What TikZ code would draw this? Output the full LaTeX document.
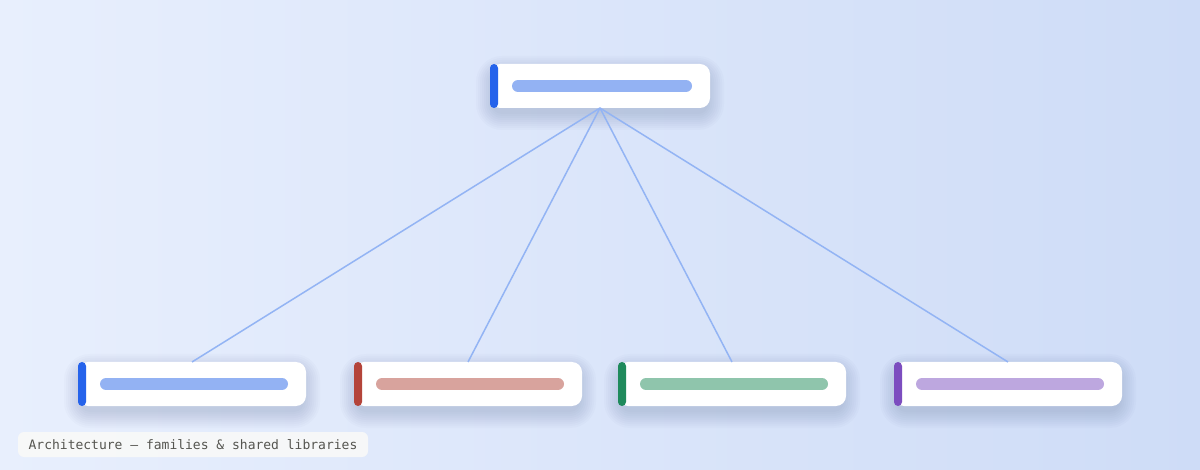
\documentclass[tikz,border=0pt]{standalone}
\usepackage{fontspec}
\setmonofont{DejaVu Sans Mono}

\begin{document}
\begin{tikzpicture}[x=0.5pt,y=0.5pt,yscale=-1,xscale=1,
  card/.style={fill=white,rounded corners=5pt,minimum height=22pt,inner sep=0pt,outer sep=0pt},
  softshade/.style={fill={rgb, 255:red, 40; green, 60; blue, 120},fill opacity=0.018},
  link/.style={draw={rgb, 255:red, 147; green, 180; blue, 244},line width=0.75pt},
  accent/.style={rounded corners=2pt},
  fillbar/.style={line width=6pt,line cap=round},
]
\useasboundingbox (0,0) rectangle (1200,470);

%Background
\shade [left color={rgb, 255:red, 232; green, 239; blue, 253}, right color={rgb, 255:red, 206; green, 220; blue, 247}] (0,0) rectangle (1200,470);

%Shadows under the cards
\foreach \cx/\cy/\w in {600/86/220, 192/384/228, 468/384/228, 732/384/228, 1008/384/228}{
  \foreach \k in {1,...,9}{
    \pgfmathsetmacro{\rad}{4+\k}
    \fill [softshade, rounded corners=\rad pt] ({\cx-\w/2-2*\k+4},{\cy-22-2*\k+10}) rectangle ({\cx+\w/2+2*\k-4},{\cy+22+2*\k+4});
  }
}

%Cards
\node [card, minimum width=110pt] (root) at (600,86) {};
\node [card, minimum width=114pt] (famA) at (192,384) {};
\node [card, minimum width=114pt] (famB) at (468,384) {};
\node [card, minimum width=114pt] (famC) at (732,384) {};
\node [card, minimum width=114pt] (famD) at (1008,384) {};

%Links
\draw [link] (root.south) -- (famA.north);
\draw [link] (root.south) -- (famB.north);
\draw [link] (root.south) -- (famC.north);
\draw [link] (root.south) -- (famD.north);

%Accent strips
\fill [accent, fill={rgb, 255:red, 37; green, 99; blue, 235}] (root.north west) rectangle ([xshift=4pt]root.south west);
\fill [accent, fill={rgb, 255:red, 37; green, 99; blue, 235}] (famA.north west) rectangle ([xshift=4pt]famA.south west);
\fill [accent, fill={rgb, 255:red, 180; green, 68; blue, 58}] (famB.north west) rectangle ([xshift=4pt]famB.south west);
\fill [accent, fill={rgb, 255:red, 31; green, 138; blue, 92}] (famC.north west) rectangle ([xshift=4pt]famC.south west);
\fill [accent, fill={rgb, 255:red, 124; green, 77; blue, 191}] (famD.north west) rectangle ([xshift=4pt]famD.south west);

%Placeholder bars
\draw [fillbar, draw={rgb, 255:red, 147; green, 178; blue, 243}] ([xshift=14pt]root.west) -- ([xshift=-12pt]root.east);
\draw [fillbar, draw={rgb, 255:red, 147; green, 178; blue, 243}] ([xshift=14pt]famA.west) -- ([xshift=-12pt]famA.east);
\draw [fillbar, draw={rgb, 255:red, 216; green, 163; blue, 157}] ([xshift=14pt]famB.west) -- ([xshift=-12pt]famB.east);
\draw [fillbar, draw={rgb, 255:red, 143; green, 197; blue, 172}] ([xshift=14pt]famC.west) -- ([xshift=-12pt]famC.east);
\draw [fillbar, draw={rgb, 255:red, 189; green, 167; blue, 223}] ([xshift=14pt]famD.west) -- ([xshift=-12pt]famD.east);

% Text Node
\node [fill={rgb, 255:red, 250; green, 250; blue, 248}, fill opacity=0.85, text opacity=1, rounded corners=3pt, minimum width=175pt, minimum height=12.5pt, inner sep=0pt, text={rgb, 255:red, 85; green, 85; blue, 80}, font=\ttfamily\fontsize{6.5}{8}\selectfont] (caption) at (193,444.5) {Architecture — families \& shared libraries};

\end{tikzpicture}
\end{document}
